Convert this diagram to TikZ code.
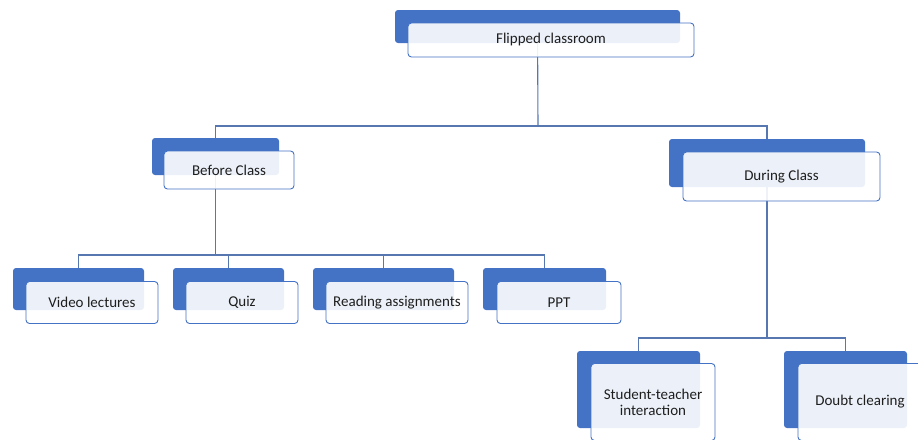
\documentclass[tikz,border=0pt]{standalone}
\usepackage{fontspec}
\setmainfont{Carlito}
\usetikzlibrary{positioning}
\usetikzlibrary{backgrounds}

\definecolor{accent}{HTML}{4472C4}
\definecolor{linkcol}{HTML}{5677B0}
\definecolor{txtcol}{HTML}{1E1E1E}

\tikzset{
  backbox/.style={rectangle, rounded corners=3pt, fill=accent, draw=none,
    inner sep=0pt},
  frontbox/.style={rectangle, rounded corners=3.5pt, draw=accent, line width=0.9pt,
    fill=white, fill opacity=0.9, text opacity=1, text=txtcol, inner sep=0pt,
    font=\fontsize{15}{16}\selectfont, align=center},
  link/.style={draw=linkcol, line width=1.1pt}
}

\begin{document}
\begin{tikzpicture}[x=1pt,y=-1pt]
  \clip (0,0) rectangle (918,439);
  % top level
  \node[backbox, minimum width=285pt, minimum height=33pt] (fcb) at (537.5,26.5) {};
  \node[frontbox, minimum width=286pt, minimum height=34pt] (fc) at ([shift={(13.5,13.5)}]fcb) {Flipped classroom};
  % second level
  \node[backbox, minimum width=127pt, minimum height=37pt] (bcb) at (215.5,156.5) {};
  \node[frontbox, minimum width=130pt, minimum height=38pt] (bc) at ([shift={(13.5,13.5)}]bcb) {Before Class};
  \node[backbox, minimum width=196pt, minimum height=48pt] (dcb) at (767,163) {};
  \node[frontbox, minimum width=197pt, minimum height=49pt] (dc) at ([shift={(14.5,13.5)}]dcb) {During Class};
  % before class items
  \node[backbox, minimum width=131pt, minimum height=42pt] (vlb) at (78.5,289) {};
  \node[frontbox, minimum width=132pt, minimum height=42pt] (vl) at ([shift={(13.5,13.5)}]vlb) {Video lectures};
  \node[backbox, minimum width=111pt, minimum height=42pt] (qzb) at (228.5,289) {};
  \node[frontbox, minimum width=112pt, minimum height=42pt] (qz) at ([shift={(13.5,13.5)}]qzb) {Quiz};
  \node[backbox, minimum width=141pt, minimum height=42pt] (rab) at (383.5,289) {};
  \node[frontbox, minimum width=142pt, minimum height=42pt] (ra) at ([shift={(13.5,13.5)}]rab) {Reading assignments};
  \node[backbox, minimum width=123pt, minimum height=42pt] (ppb) at (544.5,289) {};
  \node[frontbox, minimum width=124pt, minimum height=42pt] (pp) at ([shift={(14.5,13.5)}]ppb) {PPT};
  % during class items
  \node[backbox, minimum width=123pt, minimum height=77pt] (stb) at (638.5,389.5) {};
  \node[frontbox, minimum width=124pt, minimum height=77pt] (st) at ([shift={(14.5,12.5)}]stb) {Student-teacher\\interaction};
  \node[backbox, minimum width=123pt, minimum height=77pt] (dbb) at (845.5,389.5) {};
  \node[frontbox, minimum width=124pt, minimum height=77pt] (db) at ([shift={(14.5,12.5)}]dbb) {Doubt clearing};

  % connectors
  \begin{pgfonlayer}{background}
    \coordinate (bus1) at (538,126);
    \coordinate (bus2) at (215.5,255);
    \coordinate (bus3) at (767,338);
    \draw[link] (fcb.center) -- (bus1);
    \draw[link] (bcb.north) |- (bus1) -| (dcb.north);
    \draw[link] (bcb.center) -- (bus2);
    \draw[link] (vlb.north) |- (bus2) -| (ppb.north);
    \draw[link] (qzb.north) |- (bus2);
    \draw[link] (rab.north) |- (bus2);
    \draw[link] (dcb.center) -- (bus3);
    \draw[link] (stb.north) |- (bus3) -| (dbb.north);
  \end{pgfonlayer}
\end{tikzpicture}
\end{document}
